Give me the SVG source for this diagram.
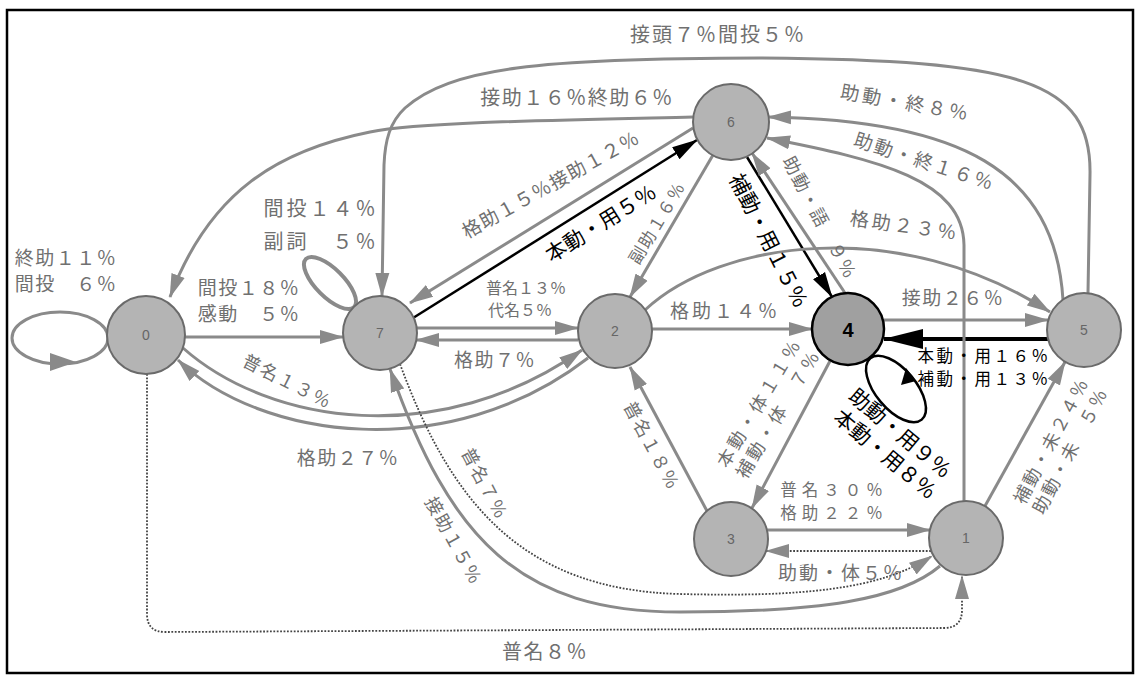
<svg xmlns="http://www.w3.org/2000/svg" width="1136" height="676" viewBox="0 0 1136 676">
<style>
.g{fill:none;stroke:#8a8a8a;stroke-width:3}
.d{fill:none;stroke:#444;stroke-width:1.8;stroke-dasharray:1.8 1.6}
.b{fill:none;stroke:#000;stroke-width:2.5}
.n{fill:#b4b4b4;stroke:#6a6a6a;stroke-width:2}
.t{font-family:"Noto Sans CJK JP","Noto Sans CJK SC",sans-serif;font-size:19px;fill:#707070;text-anchor:middle;dominant-baseline:central;letter-spacing:1.5px}
.k{font-family:"Noto Sans CJK JP","Noto Sans CJK SC",sans-serif;font-size:20px;fill:#000;text-anchor:middle;dominant-baseline:central}
.nl{font-family:"Liberation Sans",sans-serif;font-size:14px;fill:#666;text-anchor:middle;dominant-baseline:central}
</style>
<defs>
<marker id="ag" markerUnits="userSpaceOnUse" markerWidth="24" markerHeight="16" refX="23" refY="8" orient="auto"><path d="M0,1 L24,8 L0,15 Z" fill="#8a8a8a"/></marker>
<marker id="ab" markerUnits="userSpaceOnUse" markerWidth="26" markerHeight="16" refX="25" refY="8" orient="auto"><path d="M0,1 L26,8 L0,15 Z" fill="#000"/></marker>
<marker id="abL" markerUnits="userSpaceOnUse" markerWidth="40" markerHeight="22" refX="39" refY="11" orient="auto"><path d="M0,1 L40,11 L0,21 Z" fill="#000"/></marker>
</defs>
<rect x="7" y="10" width="1126" height="663" fill="#fff" stroke="#000" stroke-width="2.5"/>
<g id="connectors">
<ellipse class="g" cx="60" cy="338" rx="48" ry="26"/>
<polygon points="50,353 76,362 50,371" fill="#8a8a8a"/>
<path class="g" d="M185,337 L343,337" marker-end="url(#ag)"/>
<path class="g" d="M183,348 C270,425 440,450 582,350" marker-end="url(#ag)"/>
<path class="g" d="M588,358 C450,465 260,440 178,360" marker-end="url(#ag)"/>
<ellipse class="g" cx="330" cy="283" rx="34" ry="14" transform="rotate(45 330 283)" style="stroke-width:4"/>
<path class="g" d="M417,328 L578,328" marker-end="url(#ag)"/>
<path class="g" d="M578,340 L416,340" marker-end="url(#ag)"/>
<path class="b" d="M413,318 L697,140" marker-end="url(#ab)"/>
<path class="g" d="M693,128 L410,303" marker-end="url(#ag)"/>
<path class="g" d="M693,117 C560,120 420,122 370,132 C280,150 210,190 170,297" marker-end="url(#ag)"/>
<path class="g" d="M1088,293 L1090,175 C1092,80 1020,60 760,58 C540,58 450,68 405,108 C390,122 385,140 384,165 L382,296" marker-end="url(#ag)"/>
<path class="g" d="M713,155 L630,297" marker-end="url(#ag)"/>
<path class="b" d="M747,157 L832,297" marker-end="url(#ab)"/>
<path class="g" d="M845,293 L752,153" marker-end="url(#ag)"/>
<path class="g" d="M652,329 L812,329" marker-end="url(#ag)"/>
<path class="g" d="M645,310 C720,240 900,215 1050,312" marker-end="url(#ag)"/>
<path class="g" d="M884,320 L1048,320" marker-end="url(#ag)"/>
<path class="b" d="M1048,339 L884,339" style="stroke-width:4" marker-end="url(#abL)"/>
<path class="g" d="M1063,300 C1055,170 960,120 768,117" marker-end="url(#ag)"/>
<path class="g" d="M964,501 L964,245 C963,180 880,160 767,138" marker-end="url(#ag)"/>
<path class="g" d="M830,361 L752,508" marker-end="url(#ag)"/>
<path class="g" d="M707,511 L630,367" marker-end="url(#ag)"/>
<path class="g" d="M767,530 L930,530" marker-end="url(#ag)"/>
<path class="d" d="M931,551 L766,551" marker-end="url(#ag)"/>
<path class="g" d="M985,506 L1065,362" marker-end="url(#ag)"/>
<path class="d" d="M147,374 L147,614 Q147,632 165,632 L944,628 Q962,628 962,610 L962,576" marker-end="url(#ag)"/>
<path class="d" d="M400,364 C450,500 520,590 680,594 C800,597 880,590 932,556" marker-end="url(#ag)"/>
<path class="g" d="M940,566 C900,600 820,612 680,612 C520,612 450,540 390,369" marker-end="url(#ag)"/>
<ellipse class="b" cx="896" cy="389" rx="40" ry="20" transform="rotate(50 896 389)"/>
<polygon points="906,368 901,385 916,381" fill="#000"/>
</g>
<g id="node0"><circle class="n" cx="146" cy="335" r="39"/><text class="nl" x="146" y="335">0</text></g>
<g id="node7"><circle class="n" cx="380" cy="333" r="37"/><text class="nl" x="380" y="333">7</text></g>
<g id="node2"><circle class="n" cx="615" cy="331" r="37"/><text class="nl" x="615" y="331">2</text></g>
<g id="node6"><circle class="n" cx="731" cy="122" r="38"/><text class="nl" x="731" y="122">6</text></g>
<g id="node4"><circle cx="848" cy="329" r="36" fill="#a0a0a0" stroke="#000" stroke-width="2.5"/><text x="848" y="330" font-family="Liberation Sans,sans-serif" font-size="20" font-weight="bold" text-anchor="middle" dominant-baseline="central">4</text></g>
<g id="node5"><circle class="n" cx="1084" cy="330" r="37"/><text class="nl" x="1084" y="330">5</text></g>
<g id="node3"><circle class="n" cx="731" cy="539" r="37"/><text class="nl" x="731" y="539">3</text></g>
<g id="node1"><circle class="n" cx="966" cy="538" r="37"/><text class="nl" x="966" y="538">1</text></g>
<g id="labels">
<text class="t" x="718" y="33" style="font-size:20px;letter-spacing:2px">接頭７％間投５％</text>
<text class="t" x="577" y="96" style="font-size:20px">接助１６％終助６％</text>
<text class="t" x="906" y="101" transform="rotate(10 906 101)" style="letter-spacing:3px">助動・終８％</text>
<text class="t" x="925" y="160" transform="rotate(18 925 160)" style="letter-spacing:2px">助動・終１６％</text>
<text class="t" x="905" y="224" transform="rotate(8 905 224)" style="letter-spacing:3px">格助２３％</text>
<text class="t" x="953" y="296">接助２６％</text>
<text class="t" x="725" y="309" style="letter-spacing:3px">格助１４％</text>
<text class="t" x="526" y="287" style="font-size:16px;letter-spacing:0">普名１３％</text>
<text class="t" x="520" y="309" style="font-size:16px;letter-spacing:0">代名５％</text>
<text class="t" x="495" y="358">格助７％</text>
<text class="t" x="321" y="207" style="font-size:20px;letter-spacing:3px">間投１４％</text>
<text class="t" x="321" y="240" style="font-size:20px;letter-spacing:3px">副詞　５％</text>
<text class="t" x="66" y="256">終助１１％</text>
<text class="t" x="66" y="282">間投　６％</text>
<text class="t" x="249" y="286">間投１８％</text>
<text class="t" x="249" y="312">感動　５％</text>
<text class="t" x="550" y="183" transform="rotate(-29 550 183)" style="letter-spacing:1px">格助１５％接助１２％</text>
<text class="k" x="600" y="222" transform="rotate(-32 600 222)" style="font-size:21px">本動・用５％</text>
<text class="t" x="656" y="222" transform="rotate(-59 656 222)" style="font-size:17px">副助１６％</text>
<text class="k" x="770" y="240" transform="rotate(63 770 240)" style="font-size:21px">補動・用１５％</text>
<text class="t" x="821" y="217" transform="rotate(62 821 217)" style="font-size:18px">助動・語　９％</text>
<text class="k" x="984" y="355" style="font-size:16.5px;letter-spacing:2.5px">本動・用１６％</text>
<text class="k" x="984" y="378" style="font-size:16.5px;letter-spacing:2.5px">補動・用１３％</text>
<text class="k" x="901" y="432" transform="rotate(40 901 432)" style="font-size:21px">助動・用９％</text>
<text class="k" x="886" y="453" transform="rotate(40 886 453)" style="font-size:21px">本動・用８％</text>
<text class="t" x="758" y="402" transform="rotate(-59 758 402)" style="font-size:18px;letter-spacing:3px">本動・体１１％</text>
<text class="t" x="777" y="413" transform="rotate(-59 777 413)" style="font-size:18px;letter-spacing:3px">補動・体　７％</text>
<text class="t" x="653" y="445" transform="rotate(62 653 445)" style="font-size:18px">普名１８％</text>
<text class="t" x="834" y="489" style="font-size:16.5px;letter-spacing:5px">普名３０％</text>
<text class="t" x="834" y="512" style="font-size:16.5px;letter-spacing:5px">格助２２％</text>
<text class="t" x="841" y="571" style="letter-spacing:2px">助動・体５％</text>
<text class="t" x="1050" y="440" transform="rotate(-62 1050 440)" style="font-size:18px;letter-spacing:2px">補動・未２４％</text>
<text class="t" x="1069" y="450" transform="rotate(-62 1069 450)" style="font-size:18px;letter-spacing:2px">助動・未　５％</text>
<text class="t" x="288" y="380" transform="rotate(27 288 380)" style="font-size:18px">普名１３％</text>
<text class="t" x="348" y="456">格助２７％</text>
<text class="t" x="486" y="483" transform="rotate(62 486 483)" style="font-size:18px">普名７％</text>
<text class="t" x="455" y="540" transform="rotate(61 455 540)" style="font-size:18px">接助１５％</text>
<text class="t" x="545" y="650" style="font-size:20px">普名８％</text>
</g>
</svg>
